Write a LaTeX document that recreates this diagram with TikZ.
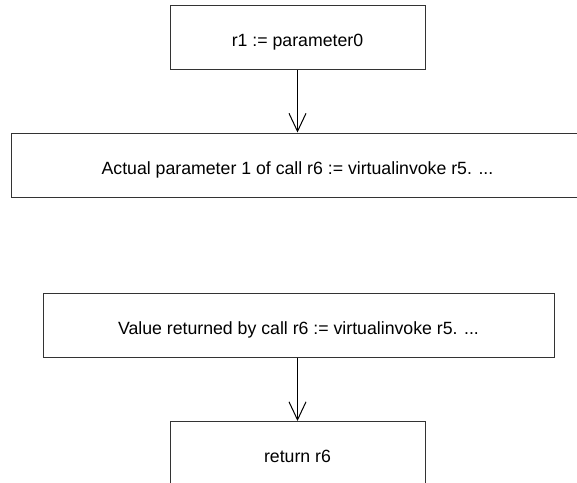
\documentclass[tikz,border=0pt]{standalone}
\usepackage{fontspec}
\setmainfont{Liberation Sans}
\usetikzlibrary{arrows.meta}
\begin{document}
\begin{tikzpicture}[x=1pt,y=-1pt,
  box/.style={draw=black!80, line width=1pt, minimum height=64pt, inner sep=0pt,
    text height=18pt, text depth=0pt,
    font=\fontsize{17.7}{20}\selectfont},
  flow/.style={draw=black, line width=1pt, -{Straight Barb[length=18pt,width=17pt]}}]
\useasboundingbox (0,0) rectangle (577,482);
\clip (0,0) rectangle (577,482);
\node[box, minimum width=255pt] (n1) at (297.5,37.5) {r1 := parameter0};
\node[box, minimum width=573pt] (n2) at (297.5,165) {Actual parameter 1 of call r6 := virtualinvoke r5. ...};
\node[box, minimum width=511pt] (n3) at (298.5,325) {Value returned by call r6 := virtualinvoke r5. ...};
\node[box, minimum width=255pt] (n4) at (297.5,453.5) {return r6};
\draw[flow] (n1) -- (n2);
\draw[flow] (n4.north |- n3.south) -- (n4.north);
\end{tikzpicture}
\end{document}
